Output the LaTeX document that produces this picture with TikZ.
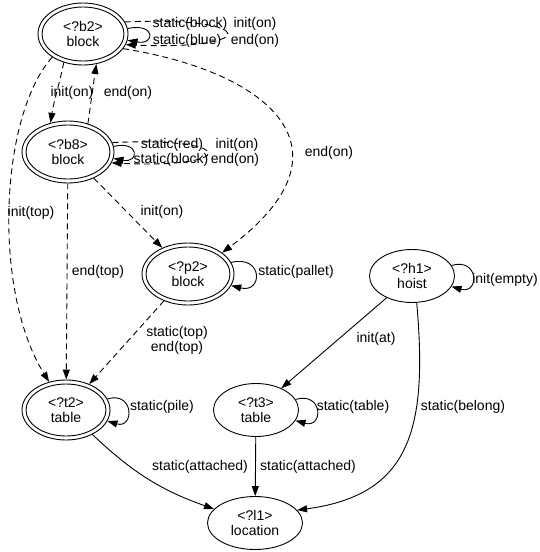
\documentclass[tikz,border=0pt]{standalone}
\usepackage{fontspec}
\setmainfont{Liberation Sans}
\usetikzlibrary{shapes.geometric,arrows.meta}
\begin{document}
\begin{tikzpicture}[x=1pt,y=-1pt,
  every node/.style={font=\fontsize{14}{15}\selectfont},
  sn/.style 2 args={ellipse, draw, line width=0.9pt, inner sep=0pt, align=center, minimum width=#1, minimum height=#2},
  dn/.style 2 args={sn={#1}{#2}, path picture={\draw[line width=0.9pt] (path picture bounding box.center) ellipse [x radius={#1/2-4}, y radius={#2/2-4}];}},
  ed/.style={line width=0.9pt, -{Triangle[length=10pt,width=7pt]}},
  dsh/.style={ed, dash pattern=on 6pt off 4pt},
  lab/.style={inner sep=0pt, align=center}]
\useasboundingbox (0,0) rectangle (540,552);
% nodes
\node[dn={90}{62}] (b2) at (83,34) {<?b2>\\block};
\node[dn={92}{62}] (b8) at (68,152) {<?b8>\\block};
\node[dn={92}{62}] (p2) at (188,274) {<?p2>\\block};
\node[dn={88}{60}] (t2) at (66,410) {<?t2>\\table};
\node[sn={85}{53}] (t3) at (256,410) {<?t3>\\table};
\node[sn={85}{53}] (h1) at (412,276) {<?h1>\\hoist};
\node[sn={95}{53}] (l1) at (255,523) {<?l1>\\location};
% self loops
\draw[ed] (b2.7) .. controls +(28,-6) and +(28,5) .. (b2.-8);
\draw[dsh] (b2.16) .. controls +(135,-6) and +(135,6) .. (b2.-14);
\draw[ed] (b8.7) .. controls +(26,-6) and +(26,5) .. (b8.-8);
\draw[dsh] (b8.12) .. controls +(127,-6) and +(127,6) .. (b8.-14);
\draw[ed] (p2.15) .. controls +(32,-8) and +(32,8) .. (p2.-15);
\draw[ed] (t2.15) .. controls +(27,-8) and +(27,8) .. (t2.-15);
\draw[ed] (t3.15) .. controls +(28,-8) and +(28,8) .. (t3.-15);
\draw[ed] (h1.15) .. controls +(28,-8) and +(28,8) .. (h1.-15);
% loop labels
\node[lab] (lbA) at (190,24) {static(block)};
\node[lab] (lbB) at (255,24) {init(on)};
\node[lab] (lbC) at (187,41) {static(blue)};
\node[lab] (lbD) at (255,41) {end(on)};
\node[lab] (lbE) at (172,145) {static(red)};
\node[lab] (lbF) at (237,145) {init(on)};
\node[lab] (lbG) at (171,160) {static(block)};
\node[lab] (lbH) at (235,160) {end(on)};
\node[lab] (lbI) at (296,272) {static(pallet)};
\node[lab] (lbJ) at (162,407) {static(pile)};
\node[lab] (lbK) at (353,407) {static(table)};
\node[lab] (lbL) at (505,280) {init(empty)};
% edges
\draw[dsh] (b2.236) .. controls +(-4,20) and +(3,-20) .. (b8.121);
\draw[dsh] (b8.55) .. controls +(3,-20) and +(-3,20) .. (b2.-66);
\draw[dsh] (b2.217) .. controls (0,115) and (-8,290) .. (t2.121);
\draw[dsh] (b8) -- (t2);
\draw[dsh] (b8) -- (p2);
\draw[dsh] (b2.-20) .. controls (270,72) and (360,150) .. (p2.32);
\draw[dsh] (p2) -- (t2);
\draw[ed] (h1) -- (t3);
\draw[ed] (t3) -- (l1);
\draw[ed] (t2) to[bend right=12] (l1);
\draw[ed] (h1.280) .. controls (428,430) and (410,495) .. (l1.17);
% edge labels
\node[lab] (lb1) at (72,93) {init(on)};
\node[lab] (lb2) at (128,93) {end(on)};
\node[lab] (lb3) at (329,153) {end(on)};
\node[lab] (lb4) at (31,213) {init(top)};
\node[lab] (lb5) at (98,272) {end(top)};
\node[lab] (lb6) at (162,212) {init(on)};
\node[lab] (lb7) at (177,340) {static(top)\\end(top)};
\node[lab] (lb8) at (376,339) {init(at)};
\node[lab] (lb9) at (463,407) {static(belong)};
\node[lab] (lb10) at (200,467) {static(attached)};
\node[lab] (lb11) at (308,467) {static(attached)};
\end{tikzpicture}
\end{document}
